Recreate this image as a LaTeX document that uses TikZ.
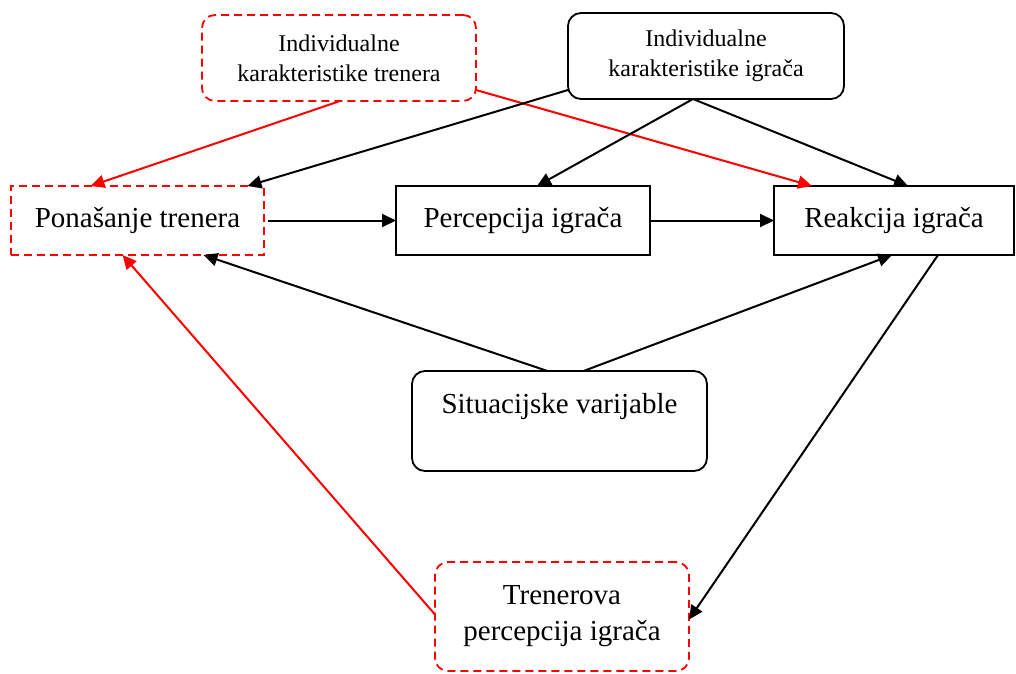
\documentclass[tikz,border=0pt]{standalone}
\usepackage{fontspec}
\setmainfont{Liberation Serif}
\usetikzlibrary{arrows.meta}
\begin{document}
\begin{tikzpicture}[x=1pt,y=-1pt,
  every node/.style={inner sep=0pt,outer sep=0pt,align=center},
  bigtxt/.style={font=\fontsize{29}{36}\selectfont},
  smalltxt/.style={font=\fontsize{24}{30}\selectfont},
  solidbox/.style={draw=black,line width=1.8pt},
  redbox/.style={draw=red,line width=1.8pt,dash pattern=on 8pt off 5pt},
  roundbox/.style={rounded corners=13pt},
  arr/.style={line width=2pt,-{Triangle[length=14pt,width=13pt]}},
  redarr/.style={arr,draw=red,fill=red},
  blackarr/.style={arr,draw=black,fill=black}]
\useasboundingbox (0,0) rectangle (1016,673);
\node[redbox,roundbox,smalltxt,minimum width=274pt,minimum height=86pt] (ikt) at (339,58) {Individualne\\karakteristike trenera};
\node[solidbox,roundbox,smalltxt,minimum width=276pt,minimum height=86pt] (iki) at (706,56) {Individualne\\karakteristike igrača};
\node[redbox,bigtxt,minimum width=253pt,minimum height=69pt] (pon) at (137.5,220.5) {Ponašanje trenera};
\node[solidbox,bigtxt,minimum width=254pt,minimum height=69pt] (per) at (523,220.5) {Percepcija igrača};
\node[solidbox,bigtxt,minimum width=240pt,minimum height=69pt] (rea) at (894,220.5) {Reakcija igrača};
\node[solidbox,roundbox,bigtxt,minimum width=295pt,minimum height=100pt] (sit) at (559.5,421) {Situacijske varijable\\\mbox{}};
\node[redbox,roundbox,bigtxt,minimum width=254pt,minimum height=109pt] (tre) at (562,616.5) {Trenerova\\percepcija igrača};
\draw[redarr] ([xshift=1pt]ikt.south) -- ([xshift=-47pt]pon.north);
\draw[redarr] ([yshift=-32pt]ikt.east) -- ([xshift=-82pt]rea.north);
\draw[blackarr] ([yshift=-34pt]iki.west) -- ([xshift=110pt]pon.north);
\draw[blackarr] ([xshift=-13pt]iki.south) -- ([xshift=14pt]per.north);
\draw[blackarr] ([xshift=-13pt]iki.south) -- ([xshift=14pt]rea.north);
\draw[blackarr,shorten <=4pt] (pon.east) -- (per.west);
\draw[blackarr] (per.east) -- (rea.west);
\draw[blackarr] ([xshift=-12pt]sit.north) -- ([xshift=66pt]pon.south);
\draw[blackarr] ([xshift=24pt]sit.north) -- ([xshift=-2pt]rea.south);
\draw[blackarr] ([xshift=44pt]rea.south) -- ([yshift=-3pt]tre.east);
\draw[redarr] ([yshift=2pt]tre.west) -- ([xshift=-15pt]pon.south);
\end{tikzpicture}
\end{document}
